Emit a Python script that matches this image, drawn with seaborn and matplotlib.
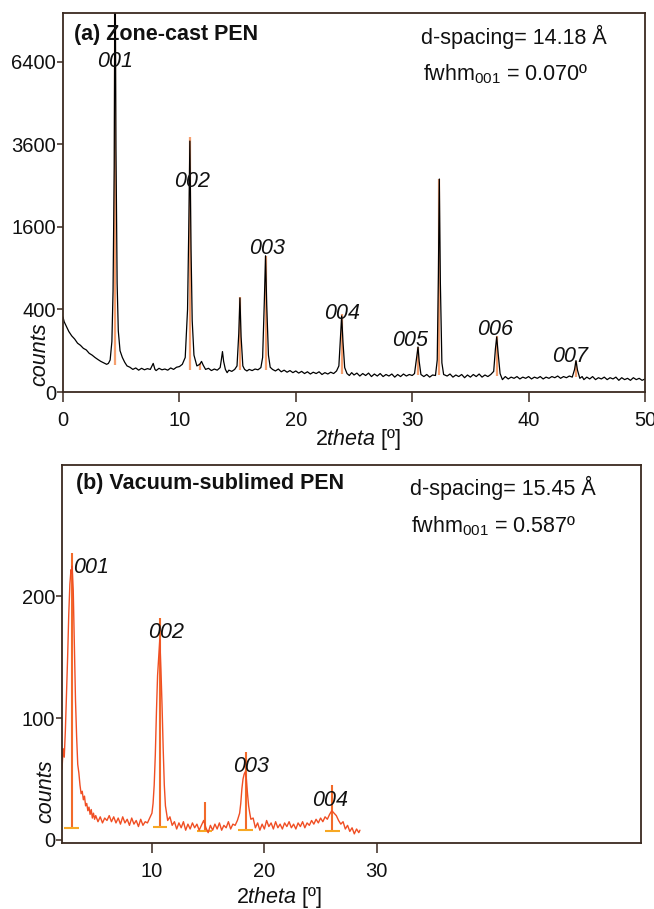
import numpy as np
import pandas as pd
import matplotlib
matplotlib.use("Agg")
import matplotlib.pyplot as plt
import seaborn as sns

# ---------------- data: (a) zone-cast PEN ----------------
tth_a = [0.0, 0.1, 0.25, 0.5, 0.75, 1.0, 1.25, 1.5, 1.75, 2.0, 2.25, 2.5, 2.75, 3.0, 3.25, 3.5, 3.75, 3.9,
         4.05, 4.2, 4.3, 4.4, 4.47, 4.55, 4.65, 4.75, 4.9, 5.1, 5.3, 5.5, 5.75, 6.0, 6.25, 6.5, 6.75, 7.0,
         7.25, 7.5, 7.75, 7.9, 8.0, 8.25, 8.5, 8.75, 9.0, 9.25, 9.5, 9.75, 10.0, 10.25, 10.5, 10.7, 10.8,
         10.9, 11.0, 11.1, 11.25, 11.5, 11.75, 11.9, 12.05, 12.25, 12.5, 12.75, 13.0, 13.25, 13.5, 13.6,
         13.7, 13.8, 13.95, 14.1, 14.25, 14.5, 14.75, 14.95, 15.1, 15.2, 15.3, 15.45, 15.6, 15.8, 16.0,
         16.25, 16.5, 16.75, 17.0, 17.15, 17.3, 17.4, 17.5, 17.65, 17.8, 18.0, 18.25, 18.5, 18.75, 19.0,
         19.25, 19.5, 19.75, 20.0, 20.25, 20.5, 20.75, 21.0, 21.25, 21.5, 21.75, 22.0, 22.25, 22.5, 22.75,
         23.0, 23.25, 23.5, 23.7, 23.85, 23.94, 24.05, 24.2, 24.4, 24.6, 24.8, 25.0, 25.25, 25.5, 25.75,
         26.0, 26.25, 26.5, 26.75, 27.0, 27.25, 27.5, 27.75, 28.0, 28.25, 28.5, 28.75, 29.0, 29.25, 29.5,
         29.75, 30.0, 30.2, 30.35, 30.5, 30.6, 30.75, 31.0, 31.25, 31.5, 31.75, 32.0, 32.15, 32.25, 32.33,
         32.42, 32.55, 32.7, 33.0, 33.25, 33.5, 33.75, 34.0, 34.25, 34.5, 34.75, 35.0, 35.25, 35.5, 35.75,
         36.0, 36.25, 36.5, 36.75, 37.0, 37.15, 37.26, 37.38, 37.55, 37.75, 38.0, 38.25, 38.5, 38.75, 39.0,
         39.25, 39.5, 39.75, 40.0, 40.25, 40.5, 40.75, 41.0, 41.25, 41.5, 41.75, 42.0, 42.25, 42.5, 42.75,
         43.0, 43.25, 43.5, 43.75, 43.95, 44.07, 44.2, 44.4, 44.6, 44.75, 45.0, 45.25, 45.5, 45.75, 46.0,
         46.25, 46.5, 46.75, 47.0, 47.25, 47.5, 47.75, 48.0, 48.25, 48.5, 48.75, 49.0, 49.25, 49.5, 49.75,
         50.0]
counts_a = [330, 290, 260, 215, 185, 165, 140, 128, 112, 104, 88, 80, 70, 62, 55, 50, 45, 48,
            60, 150, 600, 3000, 12000, 3500, 700, 220, 100, 70, 52, 40, 36, 30, 34, 28, 33, 29,
            32, 30, 48, 30, 27, 33, 29, 31, 28, 34, 30, 36, 38, 45, 70, 400, 1500,
            3700, 1200, 300, 80, 40, 45, 55, 42, 30, 33, 27, 31, 28, 35, 60,
            96, 55, 30, 22, 28, 25, 30, 40, 200, 520, 180, 40, 30, 26, 30,
            27, 31, 29, 35, 70, 500, 1090, 450, 80, 36, 30, 26, 31, 24, 28,
            23, 27, 22, 26, 21, 25, 20, 24, 19, 23, 20, 24, 18, 22, 19,
            23, 20, 26, 40, 200, 340, 150, 35, 20, 16, 22, 17, 21, 15, 20,
            16, 21, 14, 19, 15, 20, 14, 18, 15, 19, 13, 18, 14, 19, 15,
            18, 16, 20, 60, 119, 55, 18, 14, 18, 13, 17, 16, 60, 800, 2665,
            700, 50, 18, 15, 19, 13, 17, 14, 18, 12, 17, 13, 18, 14, 19,
            13, 17, 14, 18, 25, 110, 178, 90, 20, 9, 14, 10, 13, 11, 14,
            10, 13, 11, 14, 10, 13, 11, 14, 10, 13, 11, 14, 12, 15, 11,
            14, 12, 15, 13, 30, 58, 28, 11, 14, 9, 13, 10, 14, 9, 12,
            10, 13, 9, 12, 10, 13, 8, 12, 9, 11, 8, 12, 9, 11, 8,
            10]

stick_pos_a = [4.47, 10.9, 11.8, 15.2, 17.4, 23.94, 30.5, 32.33, 37.26, 44.07]
stick_top_a = [9000, 3820, 50, 525, 1090, 360, 119, 2665, 185, 58]
stick_bot_a = [42, 28, 28, 28, 28, 18, 16, 16, 15, 13]

peak_lab_a = ["001", "002", "003", "004", "005", "006", "007"]
peak_lab_x_a = [4.47, 11.05, 17.5, 23.94, 29.8, 37.1, 43.6]
peak_lab_y_a = [6400, 2600, 1213, 364, 155, 231, 76]

# ---------------- data: (b) vacuum-sublimed PEN ----------------
tth_b = [2.0, 2.1, 2.2, 2.3, 2.4, 2.5, 2.6, 2.7, 2.8, 2.85, 2.9, 3.0, 3.1, 3.2, 3.3, 3.4, 3.5, 3.6, 3.7,
         3.8, 3.9, 4.0, 4.1, 4.2, 4.3, 4.4, 4.5, 4.6, 4.7, 4.8, 4.9, 5.0, 5.2, 5.4, 5.6, 5.8, 6.0, 6.2,
         6.4, 6.6, 6.8, 7.0, 7.2, 7.4, 7.6, 7.8, 8.0, 8.2, 8.4, 8.6, 8.8, 9.0, 9.2, 9.4, 9.6, 9.8, 10.0,
         10.1, 10.2, 10.3, 10.4, 10.5, 10.6, 10.7, 10.8, 10.9, 11.0, 11.1, 11.2, 11.3, 11.4, 11.6, 11.8,
         12.0, 12.2, 12.4, 12.6, 12.8, 13.0, 13.2, 13.4, 13.6, 13.8, 14.0, 14.2, 14.4, 14.6, 14.8, 15.0,
         15.2, 15.4, 15.6, 15.8, 16.0, 16.2, 16.4, 16.6, 16.8, 17.0, 17.2, 17.4, 17.6, 17.8, 17.9, 18.0,
         18.1, 18.2, 18.3, 18.4, 18.5, 18.6, 18.7, 18.8, 19.0, 19.2, 19.4, 19.6, 19.8, 20.0, 20.2, 20.4,
         20.6, 20.8, 21.0, 21.2, 21.4, 21.6, 21.8, 22.0, 22.2, 22.4, 22.6, 22.8, 23.0, 23.2, 23.4, 23.6,
         23.8, 24.0, 24.2, 24.4, 24.6, 24.8, 25.0, 25.2, 25.4, 25.6, 25.8, 26.0, 26.2, 26.4, 26.6, 26.8,
         27.0, 27.2, 27.4, 27.6, 27.8, 28.0, 28.2, 28.4, 28.5]
counts_b = [58, 75, 68, 90, 120, 150, 185, 210, 222, 219, 225, 205, 160, 115, 85, 62, 55, 45, 38,
            40, 33, 36, 28, 30, 24, 27, 21, 25, 18, 22, 17, 20, 15, 19, 14, 18, 16, 20,
            15, 19, 14, 18, 13, 19, 14, 17, 12, 18, 13, 16, 11, 17, 12, 15, 14, 18, 22,
            30, 45, 70, 105, 135, 150, 165, 140, 110, 75, 45, 28, 22, 16, 19, 12,
            15, 9, 14, 10, 15, 8, 13, 9, 14, 10, 13, 8, 12, 16, 10, 6,
            12, 8, 13, 9, 14, 8, 12, 10, 15, 9, 13, 12, 16, 22, 30, 42,
            50, 54, 56, 50, 38, 28, 22, 17, 18, 10, 14, 8, 13, 9, 16, 11,
            14, 9, 15, 10, 13, 9, 14, 11, 15, 10, 13, 9, 14, 11, 15, 10,
            14, 12, 16, 13, 17, 14, 18, 15, 19, 17, 21, 24, 22, 20, 16, 13,
            15, 9, 12, 7, 10, 5, 9, 6, 8]

stick_pos_b = [2.85, 10.7, 14.7, 18.34, 26.05]
stick_top_b = [236, 182, 31, 72, 45]
stick_bot_b = [10, 11, 7, 8, 7]

peak_lab_b = ["001", "002", "003", "004"]
peak_lab_x_b = [4.62, 11.3, 18.85, 25.8]
peak_lab_y_b = [224, 170, 60, 32]

xticks_a = [0, 10, 20, 30, 40, 50]
yticks_a = [0, 400, 1600, 3600, 6400]
xticks_b = [10, 20, 30]
yticks_b = [0, 100, 200]

# ---------------- style ----------------
sns.set_style("white")
plt.rcParams["font.family"] = ["Liberation Sans", "DejaVu Sans"]
plt.rcParams["mathtext.fontset"] = "custom"
plt.rcParams["mathtext.rm"] = "Liberation Sans"
plt.rcParams["mathtext.it"] = "Liberation Sans:italic"
plt.rcParams["mathtext.bf"] = "Liberation Sans:bold"

FRAME = "#3a2a20"
TXT = "#111111"
FS = 15.5      # annotations / labels
FS_T = 14.5    # tick labels
FS_H = 15.5    # bold panel titles

fig = plt.figure(figsize=(6.54, 9.09), dpi=100)
ax1 = fig.add_axes([63 / 654, (909 - 392) / 909, 582 / 654, 379 / 909])
ax2 = fig.add_axes([62 / 654, (909 - 843) / 909, 579 / 654, 378 / 909])

df_a = pd.DataFrame({"tth": tth_a, "counts": counts_a})
df_b = pd.DataFrame({"tth": tth_b, "counts": counts_b})

# ---- panel (a)
ax1.vlines(stick_pos_a, stick_bot_a, stick_top_a, color="#f5a070", lw=1.6, zorder=1)
sns.lineplot(data=df_a, x="tth", y="counts", ax=ax1, color="black", lw=0.9,
             sort=False, estimator=None, zorder=2)
ax1.set_yscale("function", functions=(lambda v: np.sqrt(np.clip(v, 0, None)),
                                      lambda v: np.square(v)))
ax1.set_xlim(0, 50)
ax1.set_ylim(0, 8440)
ax1.set_xticks(xticks_a)
ax1.set_yticks(yticks_a)
ax1.set_yticklabels([str(v) for v in yticks_a])
ax1.set_xlabel("")
ax1.set_ylabel("")
for t, x, y in zip(peak_lab_a, peak_lab_x_a, peak_lab_y_a):
    ax1.text(x, y, t, style="italic", fontsize=FS, color=TXT, ha="center", va="center", zorder=3)
ax1.text(0.019, 0.944, "(a) Zone-cast PEN", transform=ax1.transAxes, fontsize=FS_H,
         fontweight="bold", color=TXT, ha="left", va="center")
ax1.text(0.774, 0.937, "d-spacing= 14.18 Å", transform=ax1.transAxes, fontsize=FS,
         color=TXT, ha="center", va="center")
ax1.text(0.76, 0.839, r"fwhm$_{\rm 001}$ = 0.070º", transform=ax1.transAxes, fontsize=FS,
         color=TXT, ha="center", va="center")
ax1.text(-0.0395, 0.10, "counts", transform=ax1.transAxes, fontsize=FS, style="italic",
         color=TXT, rotation=90, ha="center", va="center")
fig.text(358 / 654, 1 - 439 / 909, r"$\mathit{2theta}$ [º]", fontsize=FS, color=TXT,
         ha="center", va="center")

# ---- panel (b)
ax2.vlines(stick_pos_b, stick_bot_b, stick_top_b, color="#f26a2a", lw=1.5, zorder=1)
ax2.hlines(stick_bot_b, np.array(stick_pos_b) - 0.65, np.array(stick_pos_b) + 0.65,
           color="#f7a823", lw=1.5, zorder=1)
sns.lineplot(data=df_b, x="tth", y="counts", ax=ax2, color="#f04e23", lw=1.0,
             sort=False, estimator=None, zorder=2)
ax2.set_xlim(2.0, 53.5)
ax2.set_ylim(-2.5, 308)
ax2.set_xticks(xticks_b)
ax2.set_yticks(yticks_b)
ax2.set_xlabel("")
ax2.set_ylabel("")
for t, x, y in zip(peak_lab_b, peak_lab_x_b, peak_lab_y_b):
    ax2.text(x, y, t, style="italic", fontsize=FS, color=TXT, ha="center", va="center", zorder=3)
ax2.text(0.024, 0.952, "(b) Vacuum-sublimed PEN", transform=ax2.transAxes, fontsize=FS_H,
         fontweight="bold", color=TXT, ha="left", va="center")
ax2.text(0.762, 0.94, "d-spacing= 15.45 Å", transform=ax2.transAxes, fontsize=FS,
         color=TXT, ha="center", va="center")
ax2.text(0.745, 0.839, r"fwhm$_{\rm 001}$ = 0.587º", transform=ax2.transAxes, fontsize=FS,
         color=TXT, ha="center", va="center")
ax2.text(-0.0285, 0.136, "counts", transform=ax2.transAxes, fontsize=FS, style="italic",
         color=TXT, rotation=90, ha="center", va="center")
fig.text(279 / 654, 1 - 897 / 909, r"$\mathit{2theta}$ [º]", fontsize=FS, color=TXT,
         ha="center", va="center")

for ax in (ax1, ax2):
    for s in ax.spines.values():
        s.set_color(FRAME)
        s.set_linewidth(1.3)
    ax.tick_params(axis="x", direction="out", length=7, width=1.1, color=FRAME,
                   labelsize=FS_T, labelcolor=TXT, pad=6.5, bottom=True)
    ax.tick_params(axis="y", direction="out", length=4.5, width=1.1, color=FRAME,
                   labelsize=FS_T, labelcolor=TXT, pad=0.5, left=True)
    ax.grid(False)

fig.savefig("out.png", dpi=100)
